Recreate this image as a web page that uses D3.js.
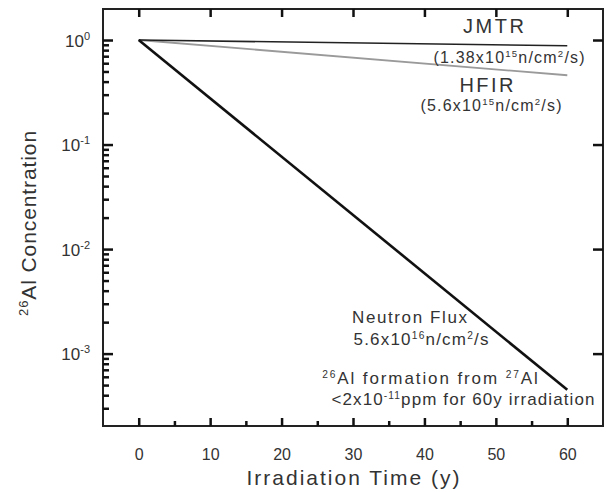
<!DOCTYPE html>
<html>
<head>
<meta charset="utf-8">
<script src="https://cdn.jsdelivr.net/npm/d3@7"></script>
<style>
  body { margin: 0; background: #fff; }
  text { font-family: "Liberation Sans", Arial, sans-serif; fill: #333; }
  .axis path { display: none; }
  .axis line { stroke: #111; stroke-width: 2.5px; }
</style>
</head>
<body>
<div id="chart"></div>
<script>
var years = [0, 60],
	neutronFlux = [1, 4.5e-4],
	jmtr = [1, 0.88],
	hfir = [1, 0.46],
	xTicks = [0, 10, 20, 30, 40, 50, 60],
	xMinorTicks = [5, 15, 25, 35, 45, 55],
	yExponents = [0, -1, -2, -3];

var width = 607,
	height = 492,
	margin = {top: 9, right: 4, bottom: 66, left: 103},
	innerW = width - margin.left - margin.right,
	innerH = height - margin.top - margin.bottom;

var x = d3.scaleLinear().domain([-5, 65]).range([0, innerW]),
	y = d3.scaleLog().domain([2.03e-4, 1.98]).range([innerH, 0]);

var yMajor = yExponents.map(function(e) { return Math.pow(10, e); }),
	yMinor = [];
[-4, -3, -2, -1, 0].forEach(function(e) {
	for (var k = 2; k < 10; k++) {
		var v = k * Math.pow(10, e);
		if (v > y.domain()[0] && v < y.domain()[1]) yMinor.push(v);
	}
});

var svg = d3.select("#chart").append("svg")
	.attr("width", width)
	.attr("height", height);

var g = svg.append("g")
	.attr("transform", "translate(" + margin.left + "," + margin.top + ")");

// frame first, ticks drawn over it
g.append("rect")
	.attr("width", innerW).attr("height", innerH)
	.attr("fill", "none").attr("stroke", "#222").attr("stroke-width", 2);

// bottom axis, major + minor ticks pointing inward
var xAxis = g.append("g")
	.attr("class", "axis")
	.attr("transform", "translate(0," + innerH + ")")
	.call(d3.axisBottom(x).tickValues(xTicks).tickSize(-8).tickPadding(0).tickFormat(d3.format("d")));
xAxis.selectAll("text")
	.attr("y", 23)
	.attr("font-size", 16)
	.attr("fill", "#333");

g.append("g")
	.attr("class", "axis")
	.attr("transform", "translate(0," + innerH + ")")
	.call(d3.axisBottom(x).tickValues(xMinorTicks).tickSize(-5).tickFormat(""));

// top axis
g.append("g")
	.attr("class", "axis")
	.call(d3.axisTop(x).tickValues(xTicks).tickSize(-8).tickFormat(""));

// left axis
var yAxis = g.append("g")
	.attr("class", "axis")
	.call(d3.axisLeft(y).tickValues(yMajor).tickSize(-10).tickFormat(""));

yAxis.selectAll(".tick").append("text")
	.attr("x", -13)
	.attr("y", 6)
	.attr("text-anchor", "end")
	.attr("font-size", 17)
	.attr("fill", "#333")
	.each(function(d) {
		var t = d3.select(this);
		t.append("tspan").text("10");
		t.append("tspan").attr("dy", -7).attr("font-size", 11)
			.text(Math.round(Math.log10(d)));
	});

g.append("g")
	.attr("class", "axis")
	.call(d3.axisLeft(y).tickValues(yMinor).tickSize(-6).tickFormat(""));

// right axis
g.append("g")
	.attr("class", "axis")
	.attr("transform", "translate(" + innerW + ",0)")
	.call(d3.axisRight(y).tickValues(yMajor).tickSize(-10).tickFormat(""));

// lines
var line = d3.line()
	.x(function(d) { return x(d[0]); })
	.y(function(d) { return y(d[1]); });

function pairs(vals) {
	return years.map(function(t, i) { return [t, vals[i]]; });
}

g.append("path").datum(pairs(hfir))
	.attr("d", line).attr("fill", "none")
	.attr("stroke", "#9a9a9a").attr("stroke-width", 1.8);
g.append("path").datum(pairs(jmtr))
	.attr("d", line).attr("fill", "none")
	.attr("stroke", "#222").attr("stroke-width", 1.6);
g.append("path").datum(pairs(neutronFlux))
	.attr("d", line).attr("fill", "none")
	.attr("stroke", "#111").attr("stroke-width", 2.6);

// axis titles
svg.append("text")
	.attr("x", margin.left + x(30) + 1)
	.attr("y", 485)
	.attr("text-anchor", "middle")
	.attr("font-size", 21)
	.attr("letter-spacing", 2)
	.text("Irradiation Time (y)");

var yt = svg.append("text")
	.attr("transform", "translate(36,223) rotate(-90)")
	.attr("text-anchor", "middle")
	.attr("font-size", 21)
	.attr("letter-spacing", 0.9);
yt.append("tspan").attr("font-size", 13).attr("dy", -8).text("26");
yt.append("tspan").attr("dy", 8).text("Al Concentration");

// annotations
function supText(px, py, parts, size, spacing) {
	var t = svg.append("text")
		.attr("x", px + spacing / 2).attr("y", py)
		.attr("text-anchor", "middle")
		.attr("font-size", size)
		.attr("letter-spacing", spacing);
	var up = false;
	parts.forEach(function(p) {
		if (p.sup) {
			t.append("tspan").attr("dy", up ? 0 : -6).attr("font-size", size * 0.6).text(p.s);
			up = true;
		} else {
			t.append("tspan").attr("dy", up ? 6 : 0).text(p.s);
			up = false;
		}
	});
	return t;
}

supText(493.5, 33, [{s: "JMTR"}], 20, 2.5);
supText(509, 63, [{s: "(1.38x10"}, {s: "15", sup: true}, {s: "n/cm"}, {s: "2", sup: true}, {s: "/s)"}], 16, 1.2);
supText(486.5, 92, [{s: "HFIR"}], 20, 2.5);
supText(491, 111, [{s: "(5.6x10"}, {s: "15", sup: true}, {s: "n/cm"}, {s: "2", sup: true}, {s: "/s)"}], 16, 1.2);

supText(409.5, 323, [{s: "Neutron Flux"}], 17, 1.6);
supText(421, 345, [{s: "5.6x10"}, {s: "16", sup: true}, {s: "n/cm"}, {s: "2", sup: true}, {s: "/s"}], 17, 1.2);
supText(430, 384, [{s: "26", sup: true}, {s: "Al formation from "}, {s: "27", sup: true}, {s: "Al"}], 17, 1.9);
supText(463, 405, [{s: "<2x10"}, {s: "-11", sup: true}, {s: "ppm for 60y irradiation"}], 17, 1.1);
</script>
</body>
</html>
